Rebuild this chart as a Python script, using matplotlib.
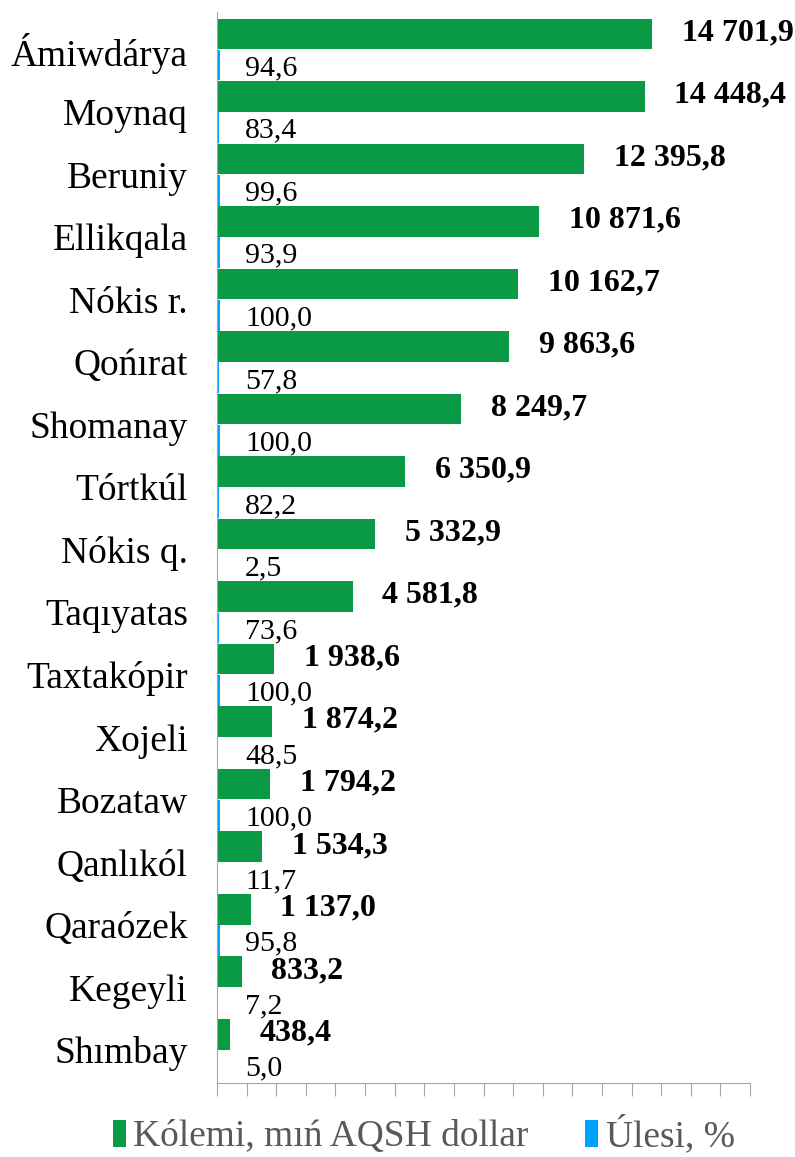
import numpy as np
import matplotlib
matplotlib.use("Agg")
import matplotlib.pyplot as plt

plt.rcParams['font.family'] = ['Liberation Serif', 'DejaVu Serif']

# data (top to bottom as in the picture)
regions = ["Ámiwdárya", "Moynaq", "Beruniy", "Ellikqala", "Nókis r.", "Qońırat",
           "Shomanay", "Tórtkúl", "Nókis q.", "Taqıyatas", "Taxtakópir", "Xojeli",
           "Bozataw", "Qanlıkól", "Qaraózek", "Kegeyli", "Shımbay"]
volume = [14701.9, 14448.4, 12395.8, 10871.6, 10162.7, 9863.6, 8249.7, 6350.9,
          5332.9, 4581.8, 1938.6, 1874.2, 1794.2, 1534.3, 1137.0, 833.2, 438.4]
share = [94.6, 83.4, 99.6, 93.9, 100.0, 57.8, 100.0, 82.2, 2.5, 73.6, 100.0,
         48.5, 100.0, 11.7, 95.8, 7.2, 5.0]

green = "#0A9A46"
blue = "#00A0FF"
grey = "#595959"


def fmt(v):
    return f"{v:,.1f}".replace(",", " ").replace(".", ",")


n = len(regions)
y = np.arange(n)[::-1]

fig = plt.figure(figsize=(7.95, 11.57), dpi=100)
ax = fig.add_axes([217 / 795, 74 / 1157, 533 / 795, 1071 / 1157])

ax.barh(y + 0.25, volume, height=0.49, color=green, label="Kólemi, mıń AQSH dollar")
ax.barh(y - 0.25, share, height=0.49, color=blue, label="Úlesi, %")

for yi, v, s in zip(y, volume, share):
    ax.text(v + 1000, yi + 0.27, fmt(v), ha="left", va="center",
            fontsize=23, fontweight="bold")
    ax.text(950, yi - 0.3, fmt(s), ha="left", va="center", fontsize=21.5)

ax.set_xlim(0, 18000)
ax.set_ylim(-0.53, 16.6)
ax.set_xticks(np.arange(0, 18001, 1000))
ax.set_xticklabels([])
ax.set_yticks(y)
ax.set_yticklabels(regions, fontsize=27)
ax.tick_params(axis="y", length=0, pad=21)
ax.tick_params(axis="x", length=9, color="#A6A6A6", direction="out")

for side in ["top", "right"]:
    ax.spines[side].set_visible(False)
for side in ["left", "bottom"]:
    ax.spines[side].set_color("#A6A6A6")

leg = fig.legend(loc="center", bbox_to_anchor=(0.533, 1 - 1135 / 1157), ncol=2,
                 frameon=False, fontsize=27, handlelength=0.35, handleheight=0.75,
                 handletextpad=0.2, columnspacing=1.5, borderpad=0)
for t in leg.get_texts():
    t.set_color(grey)

fig.savefig("out.png", dpi=100)
